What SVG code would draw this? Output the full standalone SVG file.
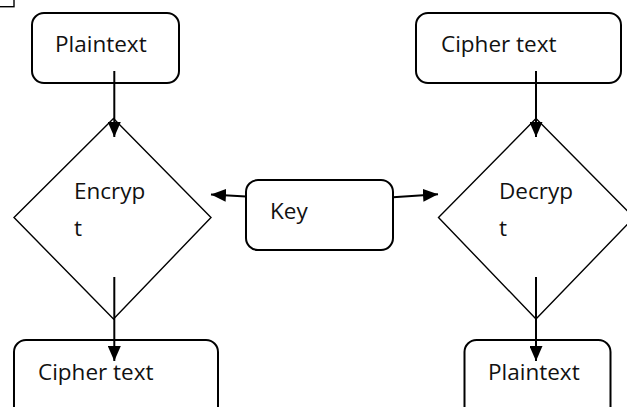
<svg xmlns="http://www.w3.org/2000/svg" width="627" height="407" viewBox="0 0 627 407">
<defs>
<style>
.box{fill:#fff;stroke:#000;stroke-width:2}
.dia{fill:#fff;stroke:#000;stroke-width:1.4}
.lbl{font-family:"Open Sans","Liberation Sans",sans-serif;font-size:22.5px;fill:#111}
.con{fill:none;stroke:#000;stroke-width:2}
</style>
<marker id="ah" markerWidth="15" markerHeight="13" refX="15" refY="6.5" orient="auto" markerUnits="userSpaceOnUse">
<path d="M0,0 L15,6.5 L0,13 Z" fill="#000"/>
</marker>
</defs>
<rect width="627" height="407" fill="#fff"/>
<g id="corner"><rect x="-2" y="-2" width="16" height="8.7" fill="none" stroke="#000" stroke-width="1.4"/></g>

<g id="plaintext-top"><rect class="box" x="32" y="13" width="147" height="70" rx="12"/><text class="lbl" x="55" y="52">Plaintext</text></g>
<g id="ciphertext-top"><rect class="box" x="416" y="13" width="205" height="70" rx="12"/><text class="lbl" x="441" y="52">Cipher text</text></g>
<g id="encrypt"><polygon class="dia" points="113.5,118.5 211,217.5 113.5,319 14,217.5"/><text class="lbl" x="74" y="199">Encryp</text><text class="lbl" x="74" y="236">t</text></g>
<g id="decrypt"><polygon class="dia" points="536,118.5 634,217.5 536,319 438.5,217.5"/><text class="lbl" x="499" y="199">Decryp</text><text class="lbl" x="499" y="236">t</text></g>
<g id="key"><rect class="box" x="246" y="180" width="147" height="70" rx="12"/><text class="lbl" x="270" y="219">Key</text></g>
<g id="ciphertext-bottom"><rect class="box" x="14" y="340" width="204" height="90" rx="12"/><text class="lbl" x="38" y="380">Cipher text</text></g>
<g id="plaintext-bottom"><rect class="box" x="464.5" y="340" width="146" height="90" rx="12"/><text class="lbl" x="488" y="380">Plaintext</text></g>

<g id="connectors">
<line class="con" x1="114.3" y1="71" x2="114.3" y2="137" marker-end="url(#ah)"/>
<line class="con" x1="536" y1="71" x2="536" y2="137" marker-end="url(#ah)"/>
<line class="con" x1="246" y1="196.5" x2="211" y2="194.5" marker-end="url(#ah)"/>
<line class="con" x1="393" y1="197.3" x2="438" y2="194.3" marker-end="url(#ah)"/>
<line class="con" x1="114.3" y1="277" x2="114.3" y2="361" marker-end="url(#ah)"/>
<line class="con" x1="536" y1="277" x2="536" y2="361" marker-end="url(#ah)"/>
</g>
</svg>
